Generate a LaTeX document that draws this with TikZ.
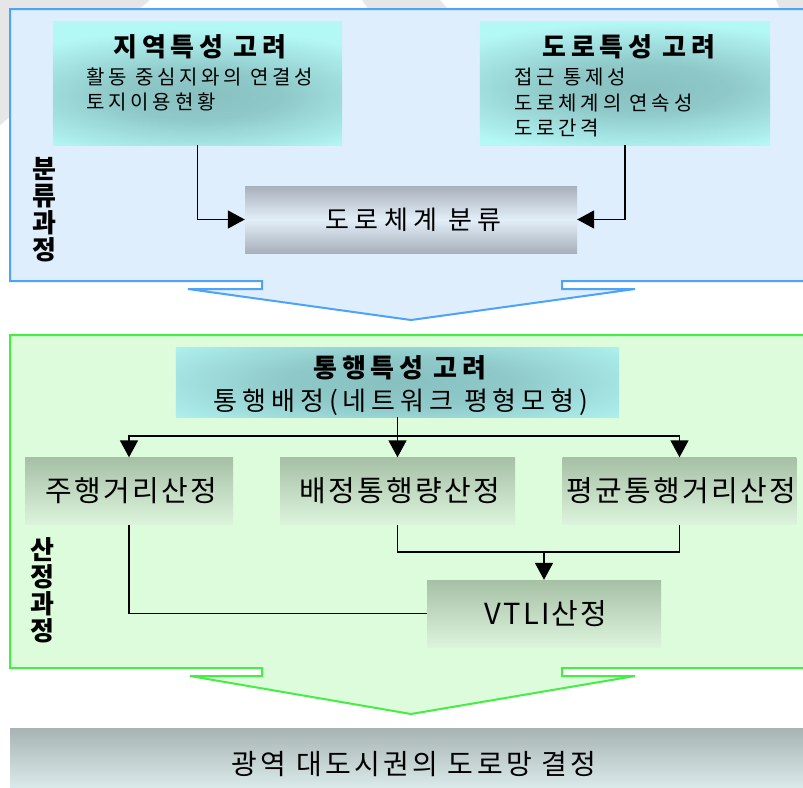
\documentclass[tikz,border=0pt]{standalone}
\usepackage{fontspec}
\setmainfont{Noto Sans CJK KR}
\usetikzlibrary{arrows.meta}
\definecolor{bluefill}{HTML}{DFEEFD}
\definecolor{blueline}{HTML}{4DA3F7}
\definecolor{greenfill}{HTML}{DCFCDC}
\definecolor{greenline}{HTML}{44EE44}
\definecolor{cyanbox}{HTML}{B4F8F6}
\definecolor{cyandark}{HTML}{88C0C0}
\definecolor{greytop}{HTML}{A8B0BC}
\definecolor{greymid}{HTML}{E2EEF8}
\definecolor{greentop}{HTML}{A6C0A6}
\definecolor{greenbot}{HTML}{DCF4DC}
\definecolor{bartop}{HTML}{A8B4B4}
\definecolor{barbot}{HTML}{E4F4F4}
\definecolor{bggrey}{HTML}{E6E6E6}
\pgfdeclareradialshading{cyanglow}{\pgfpoint{0bp}{0bp}}{color(0bp)=(cyandark); color(8bp)=(cyandark!85!cyanbox); color(22bp)=(cyanbox); color(90bp)=(cyanbox)}
\begin{document}
\begin{tikzpicture}[x=1pt,y=-1pt,
  blueframe/.style={fill=bluefill,draw=blueline,line width=2pt},
  greenframe/.style={fill=greenfill,draw=greenline,line width=2pt},
  cyanbox/.style={rectangle,fill=cyanbox,inner sep=0pt},
  glow/.style={shading=cyanglow},
  greybox/.style={rectangle,inner sep=0pt,top color=greytop,bottom color=greytop,middle color=greymid,
    font=\fontsize{26}{29}\selectfont\addfontfeatures{LetterSpace=20}},
  greenbox/.style={rectangle,inner sep=0pt,top color=greentop,bottom color=greenbot,
    font=\fontsize{29}{32}\selectfont\addfontfeatures{LetterSpace=8}},
  titletext/.style={inner sep=0pt,font=\bfseries\fontsize{26}{29}\selectfont\addfontfeatures{LetterSpace=18}},
  itemtext/.style={inner sep=0pt,anchor=west,font=\fontsize{20}{23}\selectfont\addfontfeatures{LetterSpace=19}},
  subtext/.style={inner sep=0pt,font=\fontsize{26}{29}\selectfont\addfontfeatures{LetterSpace=19}},
  vlabel/.style={inner sep=0pt,align=center,font=\bfseries\fontsize{26}{27}\selectfont},
  conn/.style={line width=1.6pt},
  arr/.style={line width=1.6pt,-{Triangle[length=17pt,width=18pt]}}
]
\useasboundingbox (0,0) rectangle (803,787);
\fill[white] (0,0) rectangle (803,787);
% faint background shapes
\fill[bggrey] (0,0) -- (150,0) -- (0,125) -- cycle;
\fill[bggrey] (362,0) -- (440,0) -- (448,9) -- (368,9) -- cycle;
\fill[bggrey] (776,0) -- (803,0) -- (803,9) -- (780,9) -- cycle;
% frames with arrows
\draw[blueframe] (10,9) -- (815,9) -- (815,281) -- (562,281) -- (562,289) -- (635,289)
  -- (411,320) -- (188,289) -- (262,289) -- (262,281) -- (10,281) -- cycle;
\draw[greenframe] (10,335) -- (815,335) -- (815,668) -- (562,668) -- (562,676) -- (635,676)
  -- (411,714) -- (190,676) -- (262,676) -- (262,668) -- (10,668) -- cycle;
% top section
\node[cyanbox,minimum width=289pt,minimum height=123pt] (reg) at (197.5,83.5) {};
\begin{scope}
  \clip (reg.south west) rectangle (reg.north east);
  \shade[glow] (-65,20) rectangle (459,170);
\end{scope}
\node[titletext] (regt) at (200,47) {지역특성 고려};
\node[itemtext] (regl1) at (86,77) {활동 중심지와의 연결성};
\node[itemtext] (regl2) at (86,102) {토지이용현황};

\node[cyanbox,minimum width=290pt,minimum height=123pt] (road) at (625,83.5) {};
\begin{scope}
  \clip (road.south west) rectangle (road.north east);
  \shade[glow] (365,13) rectangle (915,163);
\end{scope}
\node[titletext] (roadt) at (629,47) {도로특성 고려};
\node[itemtext] (roadl1) at (514,77) {접근 통제성};
\node[itemtext] (roadl2) at (514,103) {도로체계의 연속성};
\node[itemtext] (roadl3) at (514,128) {도로간격};

\node[greybox,minimum width=332pt,minimum height=67pt] (cls) at (411,219.5) {\hspace*{5pt}도로체계 분류};
\draw[arr] (reg.south) |- (cls.west);
\draw[arr] (road.south) |- (cls.east);

\node[vlabel] (lab1) at (44,210) {분\\류\\과\\정};

% middle section
\node[cyanbox,minimum width=443pt,minimum height=69pt] (trip) at (397.5,382.5) {};
\begin{scope}
  \clip (trip.south west) rectangle (trip.north east);
  \shade[glow] (47,307) rectangle (747,457);
\end{scope}
\node[titletext] (tript) at (400,368) {통행특성 고려};
\node[subtext] (tripl) at (401,402) {통행배정(네트워크 평형모형)};

\node[greenbox,minimum width=208pt,minimum height=67pt] (b1) at (129,491) {\hspace*{4pt}주행거리산정};
\node[greenbox,minimum width=235pt,minimum height=67pt] (b2) at (397.5,491) {\hspace*{4pt}배정통행량산정};
\node[greenbox,minimum width=233pt,minimum height=67pt] (b3) at (679.5,491) {\hspace*{4pt}평균통행거리산정};
\node[greenbox,minimum width=234pt,minimum height=67pt] (vt) at (544,613.5) {\hspace*{4pt}VTLI산정};

\coordinate (jn) at (397.5,436);
\coordinate (mj) at (544,552);
\draw[conn] (trip.south) -- (jn);
\draw[arr] (jn) -| (b1.north);
\draw[arr] (jn) -| (b3.north);
\draw[arr] (jn) -- (b2.north);
\draw[conn] (b2.south) |- (mj) -| (b3.south);
\draw[arr] (mj) -- (vt.north);
\draw[conn] (b1.south) |- (vt.west);

\node[vlabel] (lab2) at (42,590) {산\\정\\과\\정};

% bottom bar
\node[rectangle,inner sep=0pt,top color=bartop,bottom color=barbot,minimum width=802pt,minimum height=72pt,
  font=\fontsize{28}{31}\selectfont\addfontfeatures{LetterSpace=12}] (final) at (411,764) {\hspace*{6pt}광역 대도시권의 도로망 결정};
\end{tikzpicture}
\end{document}
